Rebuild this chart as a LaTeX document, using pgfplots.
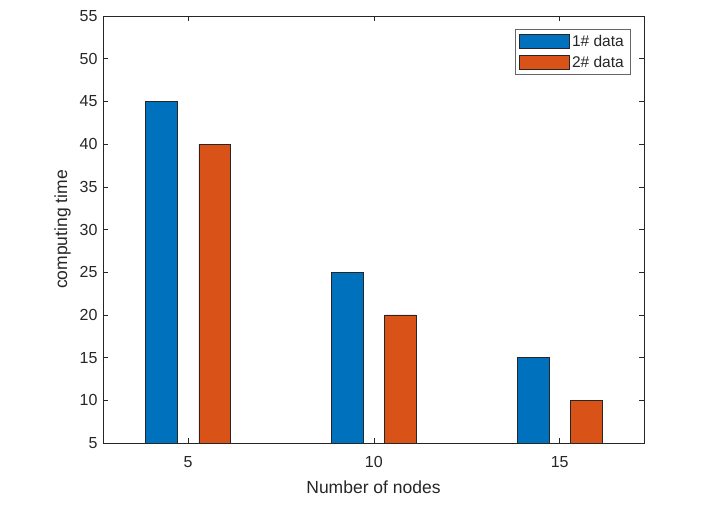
\documentclass[border=0pt]{standalone}
\usepackage{pgfplots}
\pgfplotsset{compat=1.18}
\usepackage{fontspec}
\setmainfont{Liberation Sans}
\definecolor{mblue}{rgb}{0,0.447,0.741}
\definecolor{morange}{rgb}{0.85,0.325,0.098}
\definecolor{axc}{rgb}{0.15,0.15,0.15}
\begin{document}
\begin{tikzpicture}
\begin{axis}[
  scale only axis,
  width=541pt, height=427pt,
  xmin=2.71, xmax=17.27,
  ymin=5, ymax=55,
  xtick={5,10,15},
  ytick={5,10,...,55},
  tick align=inside,
  major tick length=5pt,
  axis line style={axc},
  tick style={axc, line width=0.5pt},
  every axis plot/.append style={draw=black!85, line width=0.6pt},
  /pgf/number format/assume math mode=true,
  ticklabel style={font=\fontsize{16}{19}\selectfont, text=axc},
  xticklabel style={yshift=-10pt},
  yticklabel style={xshift=-2pt},
  xlabel={Number of nodes},
  ylabel={computing time},
  label style={font=\fontsize{17.5}{21}\selectfont, text=axc},
  xlabel style={yshift=-6pt},
  ylabel style={yshift=2pt},
  legend style={at={(1,1)}, xshift=-14pt, yshift=-13pt, anchor=north east,
    draw=black!60, font=\fontsize{15.5}{18}\selectfont, text=axc,
    inner xsep=4pt, inner ysep=4pt, row sep=4pt, cells={anchor=west}},
  legend image code/.code={\draw[#1] (0pt,-7pt) rectangle (50pt,7pt);},
]
\addplot[ybar, fill=mblue, bar width=0.85, bar shift=-0.714] coordinates {(5,45) (10,25) (15,15)};
\addplot[ybar, fill=morange, bar width=0.85, bar shift=0.714] coordinates {(5,40) (10,20) (15,10)};
\legend{1\# data, 2\# data}
\end{axis}
\path (current axis.south west) ++(-103pt,-71pt) rectangle ++(722pt,514pt);
\end{tikzpicture}
\end{document}
